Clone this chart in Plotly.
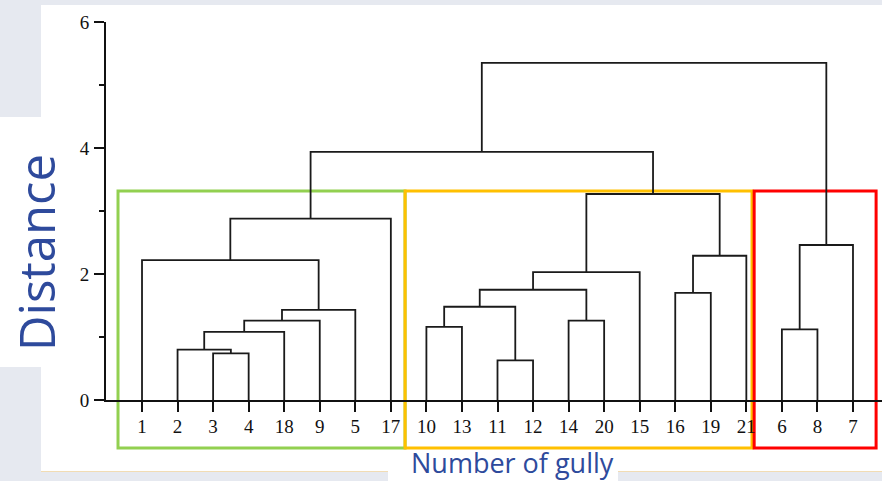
import plotly.graph_objects as go

# ---- data ----
leaves = ["1", "2", "3", "4", "18", "9", "5", "17",
          "10", "13", "11", "12", "14", "20", "15", "16", "19", "21",
          "6", "8", "7"]

# merges: (left member, right member, distance); clusters named c0, c1, ...
merge_left = ["3", "2", "c1", "c2", "c3", "1", "c5",
              "11", "10", "c8", "14", "c9", "c11", "16", "c13", "c12", "c6",
              "6", "c17", "c16"]
merge_right = ["4", "c0", "18", "9", "5", "c4", "17",
               "12", "13", "c7", "20", "c10", "15", "19", "21", "c14", "c15",
               "8", "7", "c18"]
merge_height = [0.74, 0.80, 1.08, 1.26, 1.43, 2.22, 2.88,
                0.63, 1.16, 1.48, 1.26, 1.75, 2.03, 1.70, 2.29, 3.27, 3.94,
                1.12, 2.46, 5.35]

# cluster groups (first leaf, last leaf, colour)
group_first = ["1", "10", "6"]
group_last = ["17", "21", "7"]
group_color = ["#92d050", "#ffc000", "#ff0000"]

y_ticks = [0, 2, 4, 6]

# ---- build dendrogram polyline ----
pos = {lab: (i, 0.0) for i, lab in enumerate(leaves)}
xs, ys = [], []
for k, (a, b, h) in enumerate(zip(merge_left, merge_right, merge_height)):
    xa, ha = pos[a]
    xb, hb = pos[b]
    xs += [xa, xa, xb, xb, None]
    ys += [ha, h, h, hb, None]
    pos["c%d" % k] = ((xa + xb) / 2, h)

fig = go.Figure()
fig.add_trace(go.Scatter(x=xs, y=ys, mode="lines",
                         line=dict(color="#1a1a1a", width=1.8),
                         hoverinfo="skip", showlegend=False))

XMIN, XMAX = -1.013, 20.816
W, H = 882, 481
ML, MR, MT, MB = 106, 0, 22, 81
PW, PH = W - ML - MR, H - MT - MB


def px2paper_x(px):
    return (px - ML) / PW


def py2paper_y(py):
    return (H - MB - py) / PH


def data2paper_x(x):
    return (x - XMIN) / (XMAX - XMIN)


shapes = []
# white panel
shapes.append(dict(type="rect", xref="paper", yref="paper", layer="below",
                   x0=px2paper_x(41), x1=px2paper_x(882),
                   y0=py2paper_y(471), y1=py2paper_y(5),
                   fillcolor="#ffffff", line=dict(width=0)))
# faint bottom line of the panel
shapes.append(dict(type="line", xref="paper", yref="paper", layer="below",
                   x0=px2paper_x(41), x1=px2paper_x(882),
                   y0=py2paper_y(471.5), y1=py2paper_y(471.5),
                   line=dict(color="#f1dcb4", width=1)))
# white box behind "Distance"
shapes.append(dict(type="rect", xref="paper", yref="paper", layer="below",
                   x0=px2paper_x(0), x1=px2paper_x(77),
                   y0=py2paper_y(367), y1=py2paper_y(117),
                   fillcolor="#ffffff", line=dict(width=0)))
# white box behind "Number of gully"
shapes.append(dict(type="rect", xref="paper", yref="paper", layer="below",
                   x0=px2paper_x(388), x1=px2paper_x(618),
                   y0=py2paper_y(481), y1=py2paper_y(450),
                   fillcolor="#ffffff", line=dict(width=0)))

# group boxes (edges in leaf units)
box_left = [-0.675, 7.40, 17.22]
box_right = [7.40, 17.16, 20.65]
box_top, box_bottom = 191, 448
for x0, x1, c in zip(box_left, box_right, group_color):
    shapes.append(dict(type="rect", xref="paper", yref="paper", layer="below",
                       x0=data2paper_x(x0), x1=data2paper_x(x1),
                       y0=py2paper_y(box_bottom), y1=py2paper_y(box_top),
                       fillcolor="rgba(0,0,0,0)", line=dict(color=c, width=3)))

tickfont = dict(family="Liberation Serif", size=19, color="#111111")

fig.update_layout(
    width=W, height=H,
    margin=dict(l=ML, r=MR, t=MT, b=MB, pad=0),
    paper_bgcolor="#e6e9f0",
    plot_bgcolor="rgba(0,0,0,0)",
    shapes=shapes,
    xaxis=dict(range=[XMIN, XMAX], tickmode="array",
               tickvals=list(range(len(leaves))), ticktext=leaves,
               ticks="outside", ticklen=10, tickwidth=2, tickcolor="#111111",
               showline=True, linecolor="#111111", linewidth=2,
               showgrid=False, zeroline=False, tickfont=tickfont,
               ticklabelstandoff=-2),
    yaxis=dict(range=[0, 6], tickmode="array", tickvals=y_ticks,
               ticks="outside", ticklen=10, tickwidth=2, tickcolor="#111111",
               minor=dict(dtick=1, ticklen=5, tickwidth=2, ticks="outside",
                          tickcolor="#111111", showgrid=False),
               showline=True, linecolor="#111111", linewidth=2,
               showgrid=False, zeroline=False, tickfont=tickfont,
               ticklabelstandoff=1),
    annotations=[
        dict(text="Distance", xref="paper", yref="paper",
             x=px2paper_x(36), y=py2paper_y(253), xanchor="center",
             yanchor="middle", textangle=-90, showarrow=False,
             font=dict(family="Open Sans", size=49, color="#2e4a9c")),
        dict(text="Number of gully", xref="paper", yref="paper",
             x=px2paper_x(512), y=py2paper_y(462), xanchor="center",
             yanchor="middle", showarrow=False,
             font=dict(family="Open Sans", size=27, color="#2e4a9c")),
    ],
)

fig.write_html(
    "out.html",
    config={"displayModeBar": False},
    post_script="document.body.style.margin='0px';"
                "document.body.style.overflow='hidden';",
)
